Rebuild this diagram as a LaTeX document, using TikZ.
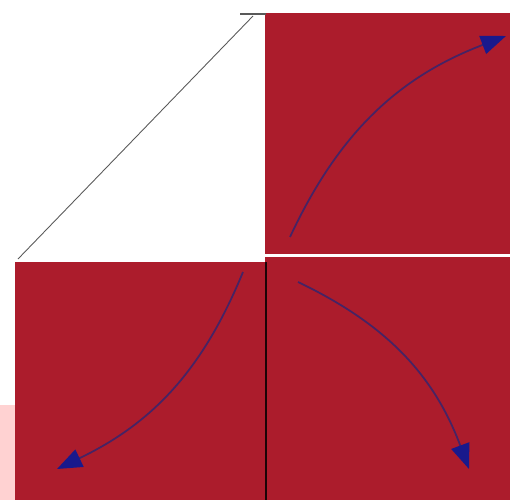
\documentclass[tikz,border=0pt]{standalone}
\usetikzlibrary{arrows.meta}
\definecolor{paper}{RGB}{172,28,44}
\definecolor{ink}{RGB}{70,35,100}
\definecolor{tipblue}{RGB}{25,25,140}
\begin{document}
\begin{tikzpicture}[x=0.02cm, y=-0.02cm,
  turn/.style={ink, line width=1pt, -{Triangle[length=0.5cm, width=0.38cm, color=tipblue]}}]
\useasboundingbox (0,0) rectangle (517,500);
% pink edge at the left
\fill[pink!70] (0,405) rectangle (15,500);
% the three red squares
\fill[paper] (265,13) rectangle (510,254);
\fill[paper] (265,257) rectangle (510,500);
\fill[paper] (15,262) rectangle (266,500);
% fold lines
\draw[gray!70!black, line width=0.5pt] (253,16) -- (18,259);
\draw[gray!70!black, line width=0.6pt] (240,14) -- (266,14);
\draw[black!85!paper, line width=1.2pt] (266,262) -- (266,500);
% arrow ends
\coordinate (a1) at (290,237);
\coordinate (b1) at (506,36);
\coordinate (a2) at (243,272);
\coordinate (b2) at (57,469);
\coordinate (a3) at (298,282);
\coordinate (b3) at (469,469);
\draw[turn] (a1) to[bend left=22] (b1);
\draw[turn] (a2) to[bend left=21] (b2);
\draw[turn] (a3) to[bend left=22] (b3);
\end{tikzpicture}
\end{document}
